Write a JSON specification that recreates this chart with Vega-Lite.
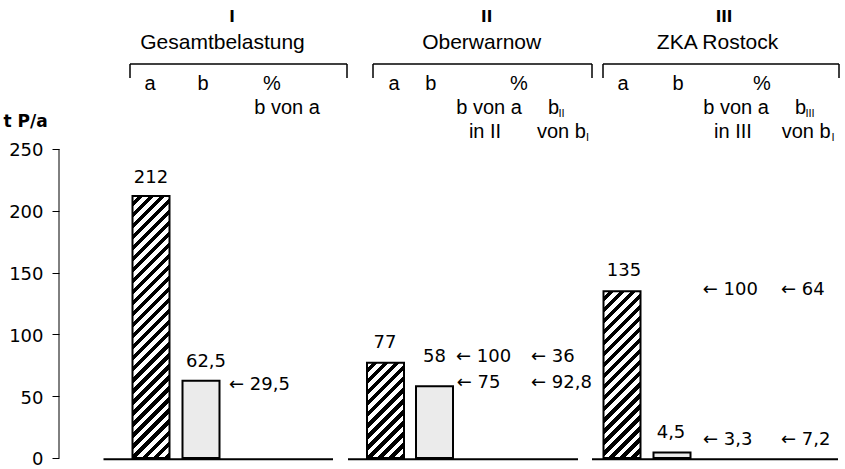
{
  "$schema": "https://vega.github.io/schema/vega-lite/v6.json",
  "width": 786,
  "height": 469,
  "autosize": {"type": "none"},
  "padding": {"left": 59, "top": 0, "right": 0, "bottom": 0},
  "background": "white",
  "config": {"view": {"stroke": null}, "font": "Liberation Sans"},
  "datasets": {
    "bars": [
      {"bar": "Ia", "grp": "I", "col": "a", "pos": 9.2, "val": 212},
      {"bar": "Ib", "grp": "I", "col": "b", "pos": 14.2, "val": 62.5},
      {"bar": "IIa", "grp": "II", "col": "a", "pos": 32.65, "val": 77},
      {"bar": "IIb", "grp": "II", "col": "b", "pos": 37.55, "val": 58},
      {"bar": "IIIa", "grp": "III", "col": "a", "pos": 56.3, "val": 135},
      {"bar": "IIIb", "grp": "III", "col": "b", "pos": 61.3, "val": 4.5}
    ],
    "groups": [
      {"grp": "I", "base0": 4.45, "base1": 27.4, "br0": 7.1, "br1": 28.8},
      {"grp": "II", "base0": 28.9, "base1": 51.9, "br0": 31.4, "br1": 53.3},
      {"grp": "III", "base0": 53.3, "base1": 77.9, "br0": 54.4, "br1": 78.0}
    ],
    "labels": [
      {"role": "roman", "text": "I", "x": 17.3, "y": 352.75},
      {"role": "roman", "text": "II", "x": 42.77, "y": 352.75},
      {"role": "roman", "text": "III", "x": 66.5, "y": 352.75},
      {"role": "title", "text": "Gesamtbelastung", "x": 16.35, "y": 331.3},
      {"role": "title", "text": "Oberwarnow", "x": 42.27, "y": 331.3},
      {"role": "title", "text": "ZKA Rostock", "x": 65.85, "y": 331.3},
      {"role": "head", "text": "a", "x": 9.1, "y": 297.7},
      {"role": "head", "text": "b", "x": 14.4, "y": 297.7},
      {"role": "head", "text": "%", "x": 21.3, "y": 297.7},
      {"role": "head", "text": "a", "x": 33.5, "y": 297.7},
      {"role": "head", "text": "b", "x": 37.17, "y": 297.7},
      {"role": "head", "text": "%", "x": 46.0, "y": 297.7},
      {"role": "head", "text": "a", "x": 56.4, "y": 297.7},
      {"role": "head", "text": "b", "x": 61.9, "y": 297.7},
      {"role": "head", "text": "%", "x": 70.3, "y": 297.7},
      {"role": "head", "text": "b von a", "x": 22.8, "y": 278.3},
      {"role": "head", "text": "b von a", "x": 43.0, "y": 278.3},
      {"role": "head", "text": "b von a", "x": 67.7, "y": 278.3},
      {"role": "head", "text": "in II", "x": 42.6, "y": 258.9},
      {"role": "head", "text": "in III", "x": 67.4, "y": 258.9},
      {"role": "headL", "text": "b", "x": 48.9, "y": 278.3},
      {"role": "headL", "text": "b", "x": 73.6, "y": 278.3},
      {"role": "headL", "text": "von b", "x": 47.8, "y": 258.9},
      {"role": "headL", "text": "von b", "x": 72.27, "y": 258.9},
      {"role": "sub", "text": "II", "x": 49.95, "y": 275.9},
      {"role": "sub", "text": "III", "x": 74.65, "y": 275.9},
      {"role": "sub", "text": "I", "x": 52.7, "y": 256.5},
      {"role": "sub", "text": "I", "x": 77.25, "y": 256.5},
      {"role": "val", "text": "212", "x": 9.2, "y": 222.7},
      {"role": "val", "text": "62,5", "x": 14.7, "y": 73.6},
      {"role": "val", "text": "77", "x": 32.6, "y": 88.75},
      {"role": "val", "text": "58", "x": 37.55, "y": 77.9},
      {"role": "val", "text": "135", "x": 56.5, "y": 147.5},
      {"role": "val", "text": "4,5", "x": 61.2, "y": 15.9},
      {"role": "arr", "text": "← 29,5", "x": 17.0, "y": 55.0},
      {"role": "arr", "text": "← 100", "x": 39.7, "y": 77.9},
      {"role": "arr", "text": "← 36", "x": 47.2, "y": 77.9},
      {"role": "arr", "text": "← 75", "x": 39.77, "y": 56.6},
      {"role": "arr", "text": "← 92,8", "x": 47.2, "y": 56.6},
      {"role": "arr", "text": "← 100", "x": 64.37, "y": 131.9},
      {"role": "arr", "text": "← 64", "x": 72.2, "y": 131.9},
      {"role": "arr", "text": "← 3,3", "x": 64.4, "y": 10.5},
      {"role": "arr", "text": "← 7,2", "x": 72.2, "y": 10.5}
    ]
  },
  "layer": [
    {
      "data": {"name": "bars"},
      "transform": [{"filter": "datum.col == 'b'"}],
      "mark": {"type": "bar", "orient": "vertical", "size": 37, "fill": "#ebebeb", "stroke": "black", "strokeWidth": 2},
      "encoding": {
        "x": {"field": "pos", "type": "quantitative", "scale": {"domain": [0, 78.6], "nice": false, "zero": false, "padding": 0}, "axis": null},
        "y": {
          "field": "val", "type": "quantitative",
          "scale": {"domain": [-8.9, 370.55], "nice": false, "zero": false},
          "axis": {
            "values": [0, 50, 100, 150, 200, 250], "domain": false, "grid": false,
            "tickSize": 7, "tickColor": "black", "tickWidth": 1,
            "labelFont": "DejaVu Sans", "labelFontSize": 18, "labelColor": "black", "labelPadding": 9, "labelOffset": 2, "labelFlush": false, "labelOverlap": false,
            "title": "t P/a", "titleAngle": 0, "titleAlign": "left", "titleBaseline": "alphabetic", "titleX": -56, "titleY": 126,
            "titleFont": "DejaVu Sans", "titleFontSize": 17, "titleFontWeight": "bold", "titleColor": "black"
          }
        },
        "y2": {"datum": 0}
      }
    },
    {
      "data": {"name": "bars"},
      "transform": [{"filter": "datum.bar == 'Ia'"}],
      "mark": {"type": "bar", "orient": "vertical", "size": 37, "stroke": "black", "strokeWidth": 2,
        "fill": {"gradient": "linear", "x1": 0, "y1": 0, "x2": 0.1749, "y2": 1.2383, "stops": [
          {"offset": 0, "color": "#fff"}, {"offset": 0.0175, "color": "#fff"}, {"offset": 0.0175, "color": "#000"}, {"offset": 0.0333, "color": "#000"},
          {"offset": 0.0333, "color": "#fff"}, {"offset": 0.0508, "color": "#fff"}, {"offset": 0.0508, "color": "#000"}, {"offset": 0.0667, "color": "#000"},
          {"offset": 0.0667, "color": "#fff"}, {"offset": 0.0842, "color": "#fff"}, {"offset": 0.0842, "color": "#000"}, {"offset": 0.1, "color": "#000"},
          {"offset": 0.1, "color": "#fff"}, {"offset": 0.1175, "color": "#fff"}, {"offset": 0.1175, "color": "#000"}, {"offset": 0.1333, "color": "#000"},
          {"offset": 0.1333, "color": "#fff"}, {"offset": 0.1508, "color": "#fff"}, {"offset": 0.1508, "color": "#000"}, {"offset": 0.1667, "color": "#000"},
          {"offset": 0.1667, "color": "#fff"}, {"offset": 0.1842, "color": "#fff"}, {"offset": 0.1842, "color": "#000"}, {"offset": 0.2, "color": "#000"},
          {"offset": 0.2, "color": "#fff"}, {"offset": 0.2175, "color": "#fff"}, {"offset": 0.2175, "color": "#000"}, {"offset": 0.2333, "color": "#000"},
          {"offset": 0.2333, "color": "#fff"}, {"offset": 0.2508, "color": "#fff"}, {"offset": 0.2508, "color": "#000"}, {"offset": 0.2667, "color": "#000"},
          {"offset": 0.2667, "color": "#fff"}, {"offset": 0.2842, "color": "#fff"}, {"offset": 0.2842, "color": "#000"}, {"offset": 0.3, "color": "#000"},
          {"offset": 0.3, "color": "#fff"}, {"offset": 0.3175, "color": "#fff"}, {"offset": 0.3175, "color": "#000"}, {"offset": 0.3333, "color": "#000"},
          {"offset": 0.3333, "color": "#fff"}, {"offset": 0.3508, "color": "#fff"}, {"offset": 0.3508, "color": "#000"}, {"offset": 0.3667, "color": "#000"},
          {"offset": 0.3667, "color": "#fff"}, {"offset": 0.3842, "color": "#fff"}, {"offset": 0.3842, "color": "#000"}, {"offset": 0.4, "color": "#000"},
          {"offset": 0.4, "color": "#fff"}, {"offset": 0.4175, "color": "#fff"}, {"offset": 0.4175, "color": "#000"}, {"offset": 0.4333, "color": "#000"},
          {"offset": 0.4333, "color": "#fff"}, {"offset": 0.4508, "color": "#fff"}, {"offset": 0.4508, "color": "#000"}, {"offset": 0.4667, "color": "#000"},
          {"offset": 0.4667, "color": "#fff"}, {"offset": 0.4842, "color": "#fff"}, {"offset": 0.4842, "color": "#000"}, {"offset": 0.5, "color": "#000"},
          {"offset": 0.5, "color": "#fff"}, {"offset": 0.5175, "color": "#fff"}, {"offset": 0.5175, "color": "#000"}, {"offset": 0.5333, "color": "#000"},
          {"offset": 0.5333, "color": "#fff"}, {"offset": 0.5508, "color": "#fff"}, {"offset": 0.5508, "color": "#000"}, {"offset": 0.5667, "color": "#000"},
          {"offset": 0.5667, "color": "#fff"}, {"offset": 0.5842, "color": "#fff"}, {"offset": 0.5842, "color": "#000"}, {"offset": 0.6, "color": "#000"},
          {"offset": 0.6, "color": "#fff"}, {"offset": 0.6175, "color": "#fff"}, {"offset": 0.6175, "color": "#000"}, {"offset": 0.6333, "color": "#000"},
          {"offset": 0.6333, "color": "#fff"}, {"offset": 0.6508, "color": "#fff"}, {"offset": 0.6508, "color": "#000"}, {"offset": 0.6667, "color": "#000"},
          {"offset": 0.6667, "color": "#fff"}, {"offset": 0.6842, "color": "#fff"}, {"offset": 0.6842, "color": "#000"}, {"offset": 0.7, "color": "#000"},
          {"offset": 0.7, "color": "#fff"}, {"offset": 0.7175, "color": "#fff"}, {"offset": 0.7175, "color": "#000"}, {"offset": 0.7333, "color": "#000"},
          {"offset": 0.7333, "color": "#fff"}, {"offset": 0.7508, "color": "#fff"}, {"offset": 0.7508, "color": "#000"}, {"offset": 0.7667, "color": "#000"},
          {"offset": 0.7667, "color": "#fff"}, {"offset": 0.7842, "color": "#fff"}, {"offset": 0.7842, "color": "#000"}, {"offset": 0.8, "color": "#000"},
          {"offset": 0.8, "color": "#fff"}, {"offset": 0.8175, "color": "#fff"}, {"offset": 0.8175, "color": "#000"}, {"offset": 0.8333, "color": "#000"},
          {"offset": 0.8333, "color": "#fff"}, {"offset": 0.8508, "color": "#fff"}, {"offset": 0.8508, "color": "#000"}, {"offset": 0.8667, "color": "#000"},
          {"offset": 0.8667, "color": "#fff"}, {"offset": 0.8842, "color": "#fff"}, {"offset": 0.8842, "color": "#000"}, {"offset": 0.9, "color": "#000"},
          {"offset": 0.9, "color": "#fff"}, {"offset": 0.9175, "color": "#fff"}, {"offset": 0.9175, "color": "#000"}, {"offset": 0.9333, "color": "#000"}
        ]}},
      "encoding": {
        "x": {"field": "pos", "type": "quantitative", "axis": null},
        "y": {"field": "val", "type": "quantitative"},
        "y2": {"datum": 0}
      }
    },
    {
      "data": {"name": "bars"},
      "transform": [{"filter": "datum.bar == 'IIa'"}],
      "mark": {"type": "bar", "orient": "vertical", "size": 37, "stroke": "black", "strokeWidth": 2,
        "fill": {"gradient": "linear", "x1": 0, "y1": 0, "x2": 1.1742, "y2": 3.0204, "stops": [
          {"offset": 0, "color": "#fff"}, {"offset": 0.0175, "color": "#fff"}, {"offset": 0.0175, "color": "#000"}, {"offset": 0.0333, "color": "#000"},
          {"offset": 0.0333, "color": "#fff"}, {"offset": 0.0508, "color": "#fff"}, {"offset": 0.0508, "color": "#000"}, {"offset": 0.0667, "color": "#000"},
          {"offset": 0.0667, "color": "#fff"}, {"offset": 0.0842, "color": "#fff"}, {"offset": 0.0842, "color": "#000"}, {"offset": 0.1, "color": "#000"},
          {"offset": 0.1, "color": "#fff"}, {"offset": 0.1175, "color": "#fff"}, {"offset": 0.1175, "color": "#000"}, {"offset": 0.1333, "color": "#000"},
          {"offset": 0.1333, "color": "#fff"}, {"offset": 0.1508, "color": "#fff"}, {"offset": 0.1508, "color": "#000"}, {"offset": 0.1667, "color": "#000"},
          {"offset": 0.1667, "color": "#fff"}, {"offset": 0.1842, "color": "#fff"}, {"offset": 0.1842, "color": "#000"}, {"offset": 0.2, "color": "#000"},
          {"offset": 0.2, "color": "#fff"}, {"offset": 0.2175, "color": "#fff"}, {"offset": 0.2175, "color": "#000"}, {"offset": 0.2333, "color": "#000"},
          {"offset": 0.2333, "color": "#fff"}, {"offset": 0.2508, "color": "#fff"}, {"offset": 0.2508, "color": "#000"}, {"offset": 0.2667, "color": "#000"},
          {"offset": 0.2667, "color": "#fff"}, {"offset": 0.2842, "color": "#fff"}, {"offset": 0.2842, "color": "#000"}, {"offset": 0.3, "color": "#000"},
          {"offset": 0.3, "color": "#fff"}, {"offset": 0.3175, "color": "#fff"}, {"offset": 0.3175, "color": "#000"}, {"offset": 0.3333, "color": "#000"},
          {"offset": 0.3333, "color": "#fff"}, {"offset": 0.3508, "color": "#fff"}, {"offset": 0.3508, "color": "#000"}, {"offset": 0.3667, "color": "#000"},
          {"offset": 0.3667, "color": "#fff"}, {"offset": 0.3842, "color": "#fff"}, {"offset": 0.3842, "color": "#000"}, {"offset": 0.4, "color": "#000"},
          {"offset": 0.4, "color": "#fff"}, {"offset": 0.4175, "color": "#fff"}, {"offset": 0.4175, "color": "#000"}, {"offset": 0.4333, "color": "#000"}
        ]}},
      "encoding": {
        "x": {"field": "pos", "type": "quantitative", "axis": null},
        "y": {"field": "val", "type": "quantitative"},
        "y2": {"datum": 0}
      }
    },
    {
      "data": {"name": "bars"},
      "transform": [{"filter": "datum.bar == 'IIIa'"}],
      "mark": {"type": "bar", "orient": "vertical", "size": 37, "stroke": "black", "strokeWidth": 2,
        "fill": {"gradient": "linear", "x1": 0, "y1": 0, "x2": 0.4191, "y2": 1.8902, "stops": [
          {"offset": 0, "color": "#fff"}, {"offset": 0.0175, "color": "#fff"}, {"offset": 0.0175, "color": "#000"}, {"offset": 0.0333, "color": "#000"},
          {"offset": 0.0333, "color": "#fff"}, {"offset": 0.0508, "color": "#fff"}, {"offset": 0.0508, "color": "#000"}, {"offset": 0.0667, "color": "#000"},
          {"offset": 0.0667, "color": "#fff"}, {"offset": 0.0842, "color": "#fff"}, {"offset": 0.0842, "color": "#000"}, {"offset": 0.1, "color": "#000"},
          {"offset": 0.1, "color": "#fff"}, {"offset": 0.1175, "color": "#fff"}, {"offset": 0.1175, "color": "#000"}, {"offset": 0.1333, "color": "#000"},
          {"offset": 0.1333, "color": "#fff"}, {"offset": 0.1508, "color": "#fff"}, {"offset": 0.1508, "color": "#000"}, {"offset": 0.1667, "color": "#000"},
          {"offset": 0.1667, "color": "#fff"}, {"offset": 0.1842, "color": "#fff"}, {"offset": 0.1842, "color": "#000"}, {"offset": 0.2, "color": "#000"},
          {"offset": 0.2, "color": "#fff"}, {"offset": 0.2175, "color": "#fff"}, {"offset": 0.2175, "color": "#000"}, {"offset": 0.2333, "color": "#000"},
          {"offset": 0.2333, "color": "#fff"}, {"offset": 0.2508, "color": "#fff"}, {"offset": 0.2508, "color": "#000"}, {"offset": 0.2667, "color": "#000"},
          {"offset": 0.2667, "color": "#fff"}, {"offset": 0.2842, "color": "#fff"}, {"offset": 0.2842, "color": "#000"}, {"offset": 0.3, "color": "#000"},
          {"offset": 0.3, "color": "#fff"}, {"offset": 0.3175, "color": "#fff"}, {"offset": 0.3175, "color": "#000"}, {"offset": 0.3333, "color": "#000"},
          {"offset": 0.3333, "color": "#fff"}, {"offset": 0.3508, "color": "#fff"}, {"offset": 0.3508, "color": "#000"}, {"offset": 0.3667, "color": "#000"},
          {"offset": 0.3667, "color": "#fff"}, {"offset": 0.3842, "color": "#fff"}, {"offset": 0.3842, "color": "#000"}, {"offset": 0.4, "color": "#000"},
          {"offset": 0.4, "color": "#fff"}, {"offset": 0.4175, "color": "#fff"}, {"offset": 0.4175, "color": "#000"}, {"offset": 0.4333, "color": "#000"},
          {"offset": 0.4333, "color": "#fff"}, {"offset": 0.4508, "color": "#fff"}, {"offset": 0.4508, "color": "#000"}, {"offset": 0.4667, "color": "#000"},
          {"offset": 0.4667, "color": "#fff"}, {"offset": 0.4842, "color": "#fff"}, {"offset": 0.4842, "color": "#000"}, {"offset": 0.5, "color": "#000"},
          {"offset": 0.5, "color": "#fff"}, {"offset": 0.5175, "color": "#fff"}, {"offset": 0.5175, "color": "#000"}, {"offset": 0.5333, "color": "#000"},
          {"offset": 0.5333, "color": "#fff"}, {"offset": 0.5508, "color": "#fff"}, {"offset": 0.5508, "color": "#000"}, {"offset": 0.5667, "color": "#000"},
          {"offset": 0.5667, "color": "#fff"}, {"offset": 0.5842, "color": "#fff"}, {"offset": 0.5842, "color": "#000"}, {"offset": 0.6, "color": "#000"},
          {"offset": 0.6, "color": "#fff"}, {"offset": 0.6175, "color": "#fff"}, {"offset": 0.6175, "color": "#000"}, {"offset": 0.6333, "color": "#000"}
        ]}},
      "encoding": {
        "x": {"field": "pos", "type": "quantitative", "axis": null},
        "y": {"field": "val", "type": "quantitative"},
        "y2": {"datum": 0}
      }
    },
    {
      "data": {"values": [{}]},
      "mark": {"type": "rule", "color": "black", "strokeWidth": 1},
      "encoding": {
        "x": {"datum": 0, "type": "quantitative", "axis": null},
        "y": {"datum": 0, "type": "quantitative"},
        "y2": {"datum": 250}
      }
    },
    {
      "data": {"name": "groups"},
      "mark": {"type": "rule", "color": "black", "strokeWidth": 2},
      "encoding": {
        "x": {"field": "base0", "type": "quantitative", "axis": null},
        "x2": {"field": "base1"},
        "y": {"datum": -1, "type": "quantitative"}
      }
    },
    {
      "data": {"name": "groups"},
      "mark": {"type": "rule", "color": "black", "strokeWidth": 1.5},
      "encoding": {
        "x": {"field": "br0", "type": "quantitative", "axis": null},
        "x2": {"field": "br1"},
        "y": {"datum": 318.8, "type": "quantitative"}
      }
    },
    {
      "data": {"name": "groups"},
      "mark": {"type": "rule", "color": "black", "strokeWidth": 1.5},
      "encoding": {
        "x": {"field": "br0", "type": "quantitative", "axis": null},
        "y": {"datum": 307.4, "type": "quantitative"},
        "y2": {"datum": 318.8}
      }
    },
    {
      "data": {"name": "groups"},
      "mark": {"type": "rule", "color": "black", "strokeWidth": 1.5},
      "encoding": {
        "x": {"field": "br1", "type": "quantitative", "axis": null},
        "y": {"datum": 307.4, "type": "quantitative"},
        "y2": {"datum": 318.8}
      }
    },
    {
      "data": {"name": "labels"},
      "transform": [{"filter": "datum.role == 'roman'"}],
      "mark": {"type": "text", "font": "DejaVu Sans", "fontSize": 15, "fontWeight": "bold", "align": "center", "baseline": "alphabetic", "color": "black"},
      "encoding": {
        "x": {"field": "x", "type": "quantitative", "axis": null},
        "y": {"field": "y", "type": "quantitative"},
        "text": {"field": "text"}
      }
    },
    {
      "data": {"name": "labels"},
      "transform": [{"filter": "datum.role == 'title'"}],
      "mark": {"type": "text", "font": "Liberation Sans", "fontSize": 21, "align": "center", "baseline": "alphabetic", "color": "black"},
      "encoding": {
        "x": {"field": "x", "type": "quantitative", "axis": null},
        "y": {"field": "y", "type": "quantitative"},
        "text": {"field": "text"}
      }
    },
    {
      "data": {"name": "labels"},
      "transform": [{"filter": "datum.role == 'head'"}],
      "mark": {"type": "text", "font": "Liberation Sans", "fontSize": 20, "align": "center", "baseline": "alphabetic", "color": "black"},
      "encoding": {
        "x": {"field": "x", "type": "quantitative", "axis": null},
        "y": {"field": "y", "type": "quantitative"},
        "text": {"field": "text"}
      }
    },
    {
      "data": {"name": "labels"},
      "transform": [{"filter": "datum.role == 'headL'"}],
      "mark": {"type": "text", "font": "Liberation Sans", "fontSize": 20, "align": "left", "baseline": "alphabetic", "color": "black"},
      "encoding": {
        "x": {"field": "x", "type": "quantitative", "axis": null},
        "y": {"field": "y", "type": "quantitative"},
        "text": {"field": "text"}
      }
    },
    {
      "data": {"name": "labels"},
      "transform": [{"filter": "datum.role == 'sub'"}],
      "mark": {"type": "text", "font": "Liberation Sans", "fontSize": 11, "align": "left", "baseline": "alphabetic", "color": "black"},
      "encoding": {
        "x": {"field": "x", "type": "quantitative", "axis": null},
        "y": {"field": "y", "type": "quantitative"},
        "text": {"field": "text"}
      }
    },
    {
      "data": {"name": "labels"},
      "transform": [{"filter": "datum.role == 'val'"}],
      "mark": {"type": "text", "font": "DejaVu Sans", "fontSize": 18, "align": "center", "baseline": "alphabetic", "color": "black"},
      "encoding": {
        "x": {"field": "x", "type": "quantitative", "axis": null},
        "y": {"field": "y", "type": "quantitative"},
        "text": {"field": "text"}
      }
    },
    {
      "data": {"name": "labels"},
      "transform": [{"filter": "datum.role == 'arr'"}],
      "mark": {"type": "text", "font": "DejaVu Sans", "fontSize": 18, "align": "left", "baseline": "alphabetic", "color": "black"},
      "encoding": {
        "x": {"field": "x", "type": "quantitative", "axis": null},
        "y": {"field": "y", "type": "quantitative"},
        "text": {"field": "text"}
      }
    }
  ]
}
